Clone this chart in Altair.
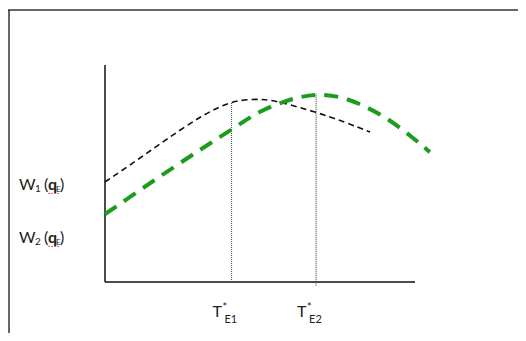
import altair as alt
import pandas as pd

# ---- data (units: T along x, W along y) ----
w1_t = [0, 0.48, 1.13, 1.77, 2.42, 3.06, 3.61, 4.10, 4.68, 5.16, 5.65, 6.81, 7.74, 8.55]
w1_w = [3.23, 3.55, 4.00, 4.45, 4.90, 5.32, 5.61, 5.82, 5.90, 5.89, 5.81, 5.48, 5.16, 4.84]
w2_t = [0, 0.81, 1.55, 2.32, 3.06, 3.71, 4.45, 4.94, 5.71, 6.29, 6.81, 7.58, 8.39, 9.19, 9.94, 10.48]
w2_w = [2.19, 2.74, 3.26, 3.77, 4.26, 4.68, 5.16, 5.48, 5.81, 5.97, 6.06, 6.00, 5.68, 5.23, 4.65, 4.19]
t_star = [4.08, 6.81]
t_star_top = [5.81, 6.08]
t_star_bottom = [0.0, -0.12]
t_star_subs = ["E1", "E2"]
axis_t_max = 10
axis_w_max = 7
w_label_levels = [2.97, 1.26]
w_label_subs = ["1", "2"]

# ---- layout ----
W, H = 510, 325
PX = 31.0
XMIN = -97 / PX
XMAX = XMIN + W / PX
YMAX = 274 / PX
YMIN = YMAX - H / PX
xs = alt.Scale(domain=[XMIN, XMAX], nice=False, zero=False)
ys = alt.Scale(domain=[YMIN, YMAX], nice=False, zero=False)
FONT = "Lato"
GREEN = "#1c9c1c"

df1 = pd.DataFrame({"t": w1_t, "w": w1_w})
df2 = pd.DataFrame({"t": w2_t, "w": w2_w})
dfs = pd.DataFrame({"t": t_star, "top": t_star_top, "bot": t_star_bottom, "sub": t_star_subs})

layers = []

# frame (left + top)
layers.append(alt.Chart(pd.DataFrame({"a": [0]})).mark_rule(color="#333", strokeWidth=1.5).encode(
    x=alt.value(1), y=alt.value(2), y2=alt.value(H)))
layers.append(alt.Chart(pd.DataFrame({"a": [0]})).mark_rule(color="#333", strokeWidth=1.5).encode(
    x=alt.value(0), x2=alt.value(W), y=alt.value(2)))

# axes
layers.append(alt.Chart(pd.DataFrame({"t": [0], "w0": [0], "w1": [axis_w_max]})).mark_rule(
    color="#111", strokeWidth=1.5).encode(
    x=alt.X("t:Q", scale=xs, axis=None), y=alt.Y("w0:Q", scale=ys, axis=None), y2="w1:Q"))
layers.append(alt.Chart(pd.DataFrame({"t0": [0], "t1": [axis_t_max], "w": [0]})).mark_rule(
    color="#111", strokeWidth=1.5).encode(
    x=alt.X("t0:Q", scale=xs, axis=None), x2="t1:Q", y=alt.Y("w:Q", scale=ys, axis=None)))

# dotted verticals
layers.append(alt.Chart(dfs).mark_rule(color="#555", strokeWidth=1.2, strokeDash=[1, 1]).encode(
    x=alt.X("t:Q", scale=xs, axis=None), y=alt.Y("bot:Q", scale=ys, axis=None), y2="top:Q"))

# curves
layers.append(alt.Chart(df1).mark_line(color="#111", strokeWidth=1.6, strokeDash=[6, 4],
                                       interpolate="basis", clip=False).encode(
    x=alt.X("t:Q", scale=xs, axis=None), y=alt.Y("w:Q", scale=ys, axis=None), order="t:Q"))
layers.append(alt.Chart(df2).mark_line(color=GREEN, strokeWidth=4, strokeDash=[14, 9],
                                       interpolate="basis", clip=False).encode(
    x=alt.X("t:Q", scale=xs, axis=None), y=alt.Y("w:Q", scale=ys, axis=None), order="t:Q"))

# x labels T*_E1, T*_E2
def tpiece(field_text, dx, dy, size):
    return alt.Chart(dfs).mark_text(font=FONT, fontSize=size, align="left", baseline="alphabetic",
                                    dx=dx, dy=dy, color="#222").encode(
        x=alt.X("t:Q", scale=xs, axis=None), y=alt.datum(0, scale=ys), text=field_text)

layers.append(tpiece(alt.value("T"), -19, 35, 16))
layers.append(tpiece(alt.value("*"), -9, 29, 11))
layers.append(tpiece(alt.Text("sub:N"), -7, 41, 11))

# y labels W1 (qE), W2 (qE)
for level, sub in zip(w_label_levels, w_label_subs):
    base = alt.Chart(pd.DataFrame({"a": [0]}))
    pieces = [("W", 11, 0, 16, "normal"), (sub, 27, 2, 10, "normal"), ("(", 36, 0, 16, "normal"),
              ("q", 40, 0, 16, "bold"), ("E", 48, 2, 8, "normal"), (")", 52, 0, 16, "normal")]
    for txt, px, dy, size, wt in pieces:
        layers.append(base.mark_text(font=FONT, fontSize=size, fontWeight=wt, align="left",
                                     baseline="alphabetic", dy=dy, color="#222").encode(
            x=alt.value(px), y=alt.datum(level, scale=ys), text=alt.value(txt)))
    ypx = (YMAX - level) * PX + 3.5
    layers.append(base.mark_rule(color="#e04040", strokeWidth=1, strokeDash=[2, 1], opacity=0.8).encode(
        x=alt.value(40), x2=alt.value(52), y=alt.value(ypx)))

chart = alt.layer(*layers).properties(
    width=W, height=H, autosize=alt.AutoSizeParams(type="none"), padding=0
).configure_view(stroke=None)

chart.save("out.html", embed_options={"renderer": "svg", "actions": False})
